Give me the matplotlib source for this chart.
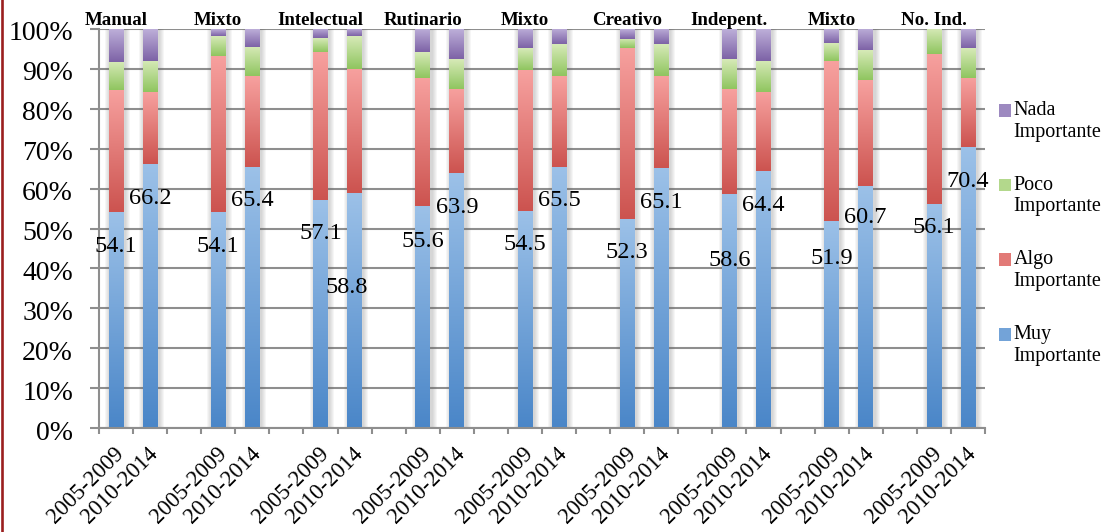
import numpy as np
import matplotlib
matplotlib.use("Agg")
import matplotlib.pyplot as plt
from matplotlib.patches import Rectangle
from matplotlib.legend_handler import HandlerPatch
from matplotlib.lines import Line2D
from matplotlib.colors import to_rgb
import matplotlib.transforms as mtransforms

plt.rcParams["font.family"] = ["Liberation Serif", "DejaVu Serif"]

# ---- data -------------------------------------------------------------
groups = ["Manual", "Mixto", "Intelectual", "Rutinario", "Mixto",
          "Creativo", "Indepent.", "Mixto", "No. Ind."]
periods = ["2005-2009", "2010-2014"]

muy = [54.1, 66.2, 54.1, 65.4, 57.1, 58.8, 55.6, 63.9, 54.5,
       65.5, 52.3, 65.1, 58.6, 64.4, 51.9, 60.7, 56.1, 70.4]
algo = [30.6, 18.0, 39.2, 22.8, 37.1, 31.2, 32.1, 21.1, 35.2,
        22.7, 42.9, 23.1, 26.4, 19.8, 40.1, 26.5, 37.6, 17.3]
poco = [7.1, 7.8, 5.0, 7.3, 3.5, 8.2, 6.5, 7.5, 5.5,
        8.0, 2.3, 8.0, 7.5, 7.8, 4.5, 7.5, 6.3, 7.5]
nada = [8.2, 8.0, 1.7, 4.5, 2.3, 1.8, 5.8, 7.5, 4.8,
        3.8, 2.5, 3.8, 7.5, 8.0, 3.5, 5.3, 0.0, 4.8]

series_labels = ["Muy\nImportante", "Algo\nImportante",
                 "Poco\nImportante", "Nada\nImportante"]

# ---- style ------------------------------------------------------------
# vertical gradient per segment: (bottom, top)
shades = [("#4a86c8", "#9cc1e8"),
          ("#cc534f", "#f7a19f"),
          ("#8fc55f", "#d7eab8"),
          ("#7d62a6", "#bdafd9")]
grid_gray = "#8e8e8e"
PT = 0.72  # points per pixel at 100 dpi

W, H = 1109, 532
fig = plt.figure(figsize=(W / 100, H / 100), dpi=100)
ax_left, ax_right, ax_top, ax_bot = 99, 985, 29, 428
ax = fig.add_axes([ax_left / W, (H - ax_bot) / H,
                   (ax_right - ax_left) / W, (ax_bot - ax_top) / H])

n_groups = len(groups)
n_slots = 3 * n_groups - 1          # two bars per group, an empty slot between
xpos = np.array([3 * g + k for g in range(n_groups) for k in range(2)], float)
bar_w = 0.43
px_x = n_slots / (ax_right - ax_left)   # one pixel in category units
px_y = 100 / (ax_bot - ax_top)          # one pixel in percent units

# soft shadow behind each column
for x in xpos:
    for k in range(1, 6):
        ax.add_patch(Rectangle((x - bar_w / 2 - k * px_x + 1.5 * px_x, 0),
                               bar_w + 2 * k * px_x, 100,
                               color="0.4", alpha=0.06, lw=0, zorder=2))

bottom = np.zeros(len(xpos))
proxies = []
grad = np.linspace(0, 1, 256)[:, None, None]
for vals, lab, (c_bot, c_top) in zip([muy, algo, poco, nada], series_labels, shades):
    vals = np.asarray(vals)
    cb, ct = np.array(to_rgb(c_bot)), np.array(to_rgb(c_top))
    mid = tuple((cb + ct) / 2)
    bars = ax.bar(xpos, vals, bar_w, bottom=bottom, color=mid, lw=0, zorder=3)
    img = (1 - grad) * cb + grad * ct
    for b in bars:
        h = b.get_height()
        if h <= 0:
            continue
        x0, y0, w = b.get_x(), b.get_y(), b.get_width()
        ax.imshow(img, extent=[x0, x0 + w, y0, y0 + h], origin="lower",
                  aspect="auto", interpolation="bilinear", zorder=4)
    proxies.append(Rectangle((0, 0), 1, 1, facecolor=mid, lw=0))
    bottom += vals

ax.set_aspect("auto")
ax.set_xlim(-0.5, n_slots - 0.5)
ax.set_ylim(0, 100)

# ---- axes styling -----------------------------------------------------
for s in ("top", "right"):
    ax.spines[s].set_visible(False)
for s in ("left", "bottom"):
    ax.spines[s].set_color(grid_gray)
    ax.spines[s].set_linewidth(1.5)
    ax.spines[s].set_zorder(5)

ax.set_yticks(np.arange(0, 101, 10))
ax.set_yticklabels([f"{v}%" for v in range(0, 101, 10)])
ax.tick_params(axis="y", direction="out", length=9 * PT, width=1.5,
               color=grid_gray, pad=17 * PT, labelsize=20)
ax.yaxis.grid(True, color=grid_gray, lw=1.5, zorder=1)
ax.set_axisbelow(True)
for lbl in ax.get_yticklabels():
    lbl.set_transform(lbl.get_transform() +
                      mtransforms.ScaledTranslation(0, -2 / 100, fig.dpi_scale_trans))

ax.set_xticks(np.arange(-0.5, n_slots, 1.0))
ax.set_xticklabels([])
ax.tick_params(axis="x", which="major", direction="out", length=6 * PT,
               width=1.5, color=grid_gray)
label_shift = 5 * px_x
ax.set_xticks(xpos + label_shift, minor=True)
ax.set_xticklabels(periods * n_groups, minor=True, rotation=45,
                   ha="right", va="center", rotation_mode="anchor",
                   fontsize=16.3)
ax.tick_params(axis="x", which="minor", length=0, pad=22.5 * PT)

# group names above the first column of each pair
for g, name in enumerate(groups):
    ax.text(xpos[2 * g], 100 + 4 * px_y, name, ha="center", va="baseline",
            fontsize=13.6, fontweight="bold", clip_on=False)

# value labels for "Muy Importante", placed inside the column
label_drop = [9.9, 10.1, 9.9, 9.8, 9.7, 25.0, 10.2, 10.0, 9.8,
              9.9, 9.7, 10.0, 17.9, 9.9, 10.8, 9.3, 7.2, 10.0]
label_dx = [0] * len(muy)
label_dx[5] = -7.7 * px_x
for x, v, d, dx in zip(xpos, muy, label_drop, label_dx):
    ax.text(x + dx, v - d, f"{v:.1f}", ha="center", va="baseline",
            fontsize=17.5, zorder=6)


# ---- legend -----------------------------------------------------------
class FirstLineSquare(HandlerPatch):
    def create_artists(self, legend, orig_handle, xdescent, ydescent,
                       width, height, fontsize, trans):
        lift = 0.54 * fontsize
        p = Rectangle((-xdescent, -ydescent + lift), width, height)
        self.update_prop(p, orig_handle, legend)
        p.set_transform(trans)
        return [p]


order = [3, 2, 1, 0]
ax.legend([proxies[i] for i in order], [series_labels[i] for i in order],
          loc="upper left", bbox_to_anchor=(999 / W, 1 - 101 / H),
          bbox_transform=fig.transFigure, frameon=False, fontsize=14.5,
          handlelength=0.6, handleheight=0.6, handletextpad=0.12,
          labelspacing=1.68, borderpad=0, borderaxespad=0,
          handler_map={Rectangle: FirstLineSquare()})

# dark red rule along the left edge
fig.add_artist(Line2D([1.5 / W, 1.5 / W], [0, 1], transform=fig.transFigure,
                      color="#9a1f1f", lw=1.9))

fig.savefig("out.png", dpi=100)
